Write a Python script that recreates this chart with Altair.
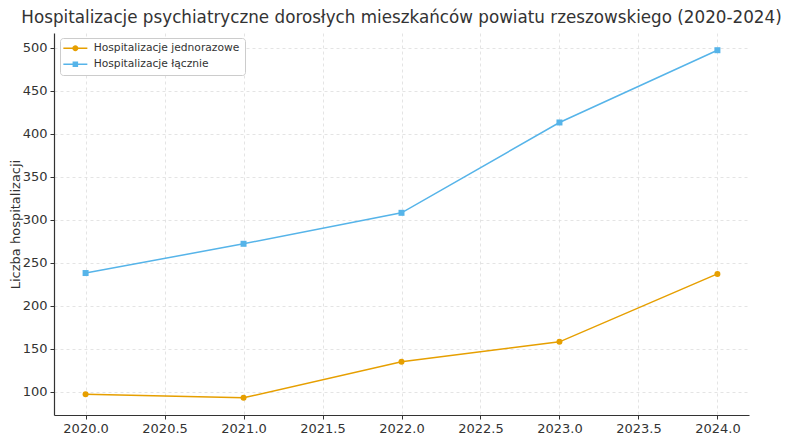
import altair as alt
import pandas as pd

years = [2020, 2021, 2022, 2023, 2024]
jednorazowe = [97, 93, 135, 158, 237]
laczne = [238, 272, 308, 413, 497]
series_names = ["Hospitalizacje jednorazowe", "Hospitalizacje łącznie"]
colors = ["#E69F00", "#56B4E9"]

rows = []
for y, v in zip(years, jednorazowe):
    rows.append({"Rok": y, "Wartosc": v, "Seria": series_names[0]})
for y, v in zip(years, laczne):
    rows.append({"Rok": y, "Wartosc": v, "Seria": series_names[1]})
df = pd.DataFrame(rows)

font = "DejaVu Sans"

# shared scales: series names (legend entries) + marker keys (plot markers)
marker_keys = [s + " m" for s in series_names]
all_keys = series_names + marker_keys

# legend symbols: a thin bar (the line) with a marker on it
circle_path = ("M-2.4,-0.15L2.4,-0.15L2.4,0.15L-2.4,0.15Z"
               "M0.6,0A0.6,0.6 0 1,1 -0.6,0A0.6,0.6 0 1,1 0.6,0Z")
square_path = ("M-2.4,-0.15L2.4,-0.15L2.4,0.15L-2.4,0.15Z"
               "M-0.55,-0.55L0.55,-0.55L0.55,0.55L-0.55,0.55Z")

color_scale = alt.Scale(domain=all_keys, range=colors + colors)
shape_scale = alt.Scale(domain=all_keys, range=[circle_path, square_path, "circle", "square"])

x_enc = alt.X("Rok:Q", scale=alt.Scale(domain=[2019.8, 2024.2], nice=False, zero=False),
              axis=alt.Axis(values=[2020.0, 2020.5, 2021.0, 2021.5, 2022.0, 2022.5, 2023.0, 2023.5, 2024.0],
                            format=".1f", title="Rok"))
y_enc = alt.Y("Wartosc:Q", scale=alt.Scale(domain=[73, 517], nice=False, zero=False),
              axis=alt.Axis(values=[100, 150, 200, 250, 300, 350, 400, 450, 500],
                            title="Liczba hospitalizacji"))

leg = alt.Legend(orient="none", legendX=6, legendY=5, symbolSize=100, values=series_names,
                 labelFont=font, labelFontSize=10.7, labelColor="#333333",
                 strokeColor="#cccccc", cornerRadius=3, fillColor="#ffffff",
                 padding=5, rowPadding=4, symbolOffset=5, labelOffset=13, title=None,
                 symbolStrokeWidth=0, symbolOpacity=1)

base = alt.Chart(df)

legend_layer = base.transform_filter("false").mark_point(filled=True, opacity=1).encode(
    x=x_enc, y=y_enc,
    color=alt.Color("Seria:N", scale=color_scale, legend=leg),
    shape=alt.Shape("Seria:N", scale=shape_scale, legend=leg),
)

lines = base.mark_line(strokeWidth=1.5).encode(
    x=x_enc, y=y_enc, color=alt.Color("Seria:N", scale=color_scale, legend=leg))

points = base.transform_calculate(Marker="datum.Seria + ' m'").mark_point(
    filled=True, opacity=1, size=36).encode(
    x=x_enc, y=y_enc,
    color=alt.Color("Marker:N", scale=color_scale, legend=leg),
    shape=alt.Shape("Marker:N", scale=shape_scale, legend=leg),
)

chart = alt.layer(legend_layer, lines, points).properties(
    width=695,
    height=382,
    autosize=alt.AutoSizeParams(type="none"),
    padding={"left": 46, "top": 25, "right": 32, "bottom": 20},
    title=alt.Title("Hospitalizacje psychiatryczne dorosłych mieszkańców powiatu rzeszowskiego (2020-2024)",
                    font=font, fontSize=16.75, fontWeight="normal", color="#333333",
                    anchor="middle", offset=6),
).configure_view(stroke=None).configure_axis(
    labelFont=font, labelFontSize=13, labelColor="#333333",
    titleFont=font, titleFontSize=13, titleColor="#333333", titleFontWeight="normal",
    domainColor="#333333", domainWidth=1.2, tickColor="#333333", tickSize=4,
    gridColor="#dddddd", gridDash=[3, 3], gridWidth=0.8, labelPadding=3,
).configure_axisY(titlePadding=0).configure_axisX(titlePadding=2)

chart.save("out.html", embed_options={"renderer": "svg", "actions": False})
